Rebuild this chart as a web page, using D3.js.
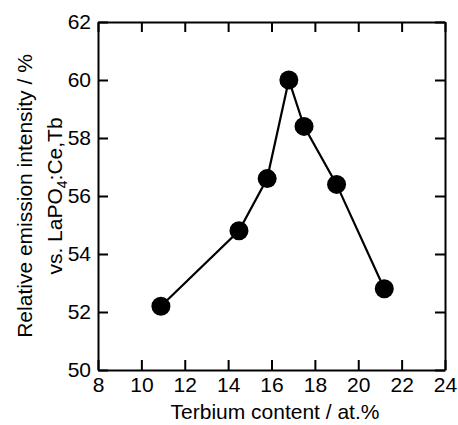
<!DOCTYPE html>
<html><head><meta charset="utf-8">
<script src="https://cdn.jsdelivr.net/npm/d3@7"></script>
<style>body{margin:0;background:#fff}svg{display:block}text{font-family:"Liberation Sans",Arial,sans-serif;fill:#000}</style>
</head><body>
<script>
const terbium = [10.9, 14.5, 15.8, 16.8, 17.5, 19.0, 21.2];
const intensity = [52.2, 54.8, 56.6, 60.0, 58.4, 56.4, 52.8];
const xTicks = [8, 10, 12, 14, 16, 18, 20, 22, 24];
const yTicks = [50, 52, 54, 56, 58, 60, 62];

const W = 458, H = 425;
const L = 98, R = 445, T = 22, B = 370;
const FS = 21;
const svg = d3.select("body").append("svg").attr("width", W).attr("height", H);
const x = d3.scaleLinear().domain([8, 24]).range([L, R]);
const y = d3.scaleLinear().domain([50, 62]).range([B, T]);
const tl = 10;

const gB = svg.append("g").attr("transform", `translate(0,${B})`)
  .call(d3.axisBottom(x).tickValues(xTicks).tickSizeInner(-tl).tickSizeOuter(0).tickPadding(7));
const gT = svg.append("g").attr("transform", `translate(0,${T})`)
  .call(d3.axisTop(x).tickValues(xTicks).tickSizeInner(-tl).tickSizeOuter(0).tickFormat(""));
const gL = svg.append("g").attr("transform", `translate(${L},0)`)
  .call(d3.axisLeft(y).tickValues(yTicks).tickSizeInner(-tl).tickSizeOuter(0).tickPadding(7));
const gR = svg.append("g").attr("transform", `translate(${R},0)`)
  .call(d3.axisRight(y).tickValues(yTicks).tickSizeInner(-tl).tickSizeOuter(0).tickFormat(""));
[gB, gT, gL, gR].forEach(g => {
  g.select(".domain").attr("stroke", "#000").attr("stroke-width", 2);
  g.selectAll(".tick line").attr("stroke", "#000").attr("stroke-width", 2);
  g.selectAll(".tick text").attr("font-size", FS).attr("font-family", "Liberation Sans, Arial, sans-serif").attr("fill", "#000");
});

const line = d3.line().x((d, i) => x(terbium[i])).y(d => y(d));
svg.append("path").datum(intensity).attr("d", line)
  .attr("fill", "none").attr("stroke", "#000").attr("stroke-width", 2.2);
svg.selectAll("circle.pt").data(intensity).join("circle").attr("class", "pt")
  .attr("cx", (d, i) => x(terbium[i])).attr("cy", d => y(d)).attr("r", 9.5).attr("fill", "#000");

svg.append("text").attr("x", 275).attr("y", 419).attr("text-anchor", "middle")
  .attr("font-size", FS).text("Terbium content / at.%");

const yl = svg.append("text").attr("transform", `translate(32,${(T + B) / 2}) rotate(-90)`)
  .attr("text-anchor", "middle").attr("font-size", FS);
yl.append("tspan").attr("x", 0).attr("y", 0).text("Relative emission intensity / %");
const t2 = svg.append("text").attr("transform", `translate(62,${(T + B) / 2}) rotate(-90)`)
  .attr("text-anchor", "middle").attr("font-size", FS);
t2.append("tspan").text("vs. LaPO");
t2.append("tspan").attr("font-size", 14).attr("dy", 5).text("4");
t2.append("tspan").attr("dy", -5).text(":Ce,Tb");
</script>
</body></html>
